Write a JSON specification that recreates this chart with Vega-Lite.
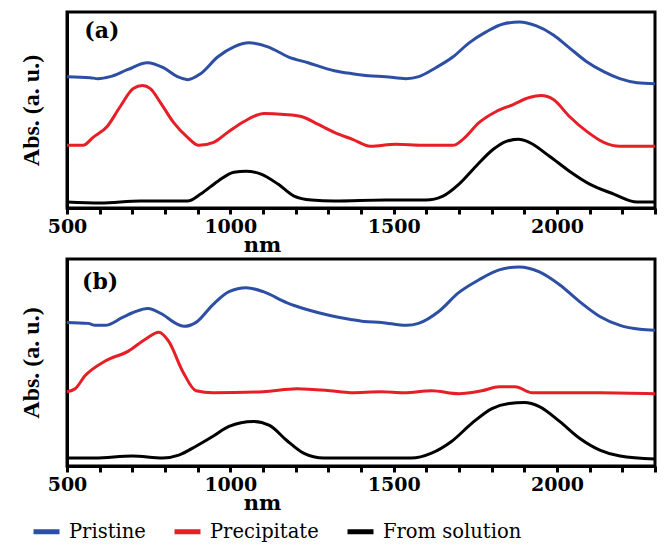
{
  "$schema": "https://vega.github.io/schema/vega-lite/v6.json",
  "padding": {"left": 17, "top": 10, "right": 5, "bottom": 0},
  "background": "white",
  "config": {
    "view": {"stroke": "black", "strokeWidth": 3},
    "font": "DejaVu Serif",
    "axisX": {
      "values": [500, 750, 1000, 1250, 1500, 1750, 2000, 2250],
      "labelExpr": "datum.value % 500 == 0 ? datum.label : ''",
      "format": "d",
      "grid": false,
      "labelFlush": false,
      "labelFont": "DejaVu Serif",
      "labelFontSize": 19,
      "labelFontWeight": "bold",
      "labelColor": "black",
      "labelPadding": 3,
      "tickSize": 6,
      "tickWidth": 3,
      "tickColor": "black",
      "domainColor": "black",
      "domainWidth": 3,
      "titleFont": "DejaVu Serif",
      "titleFontSize": 21,
      "titleFontWeight": "bold",
      "titleColor": "black",
      "titlePadding": -2,
      "titleX": 195,
      "titleAlign": "center"
    },
    "axisY": {
      "labels": false,
      "ticks": false,
      "grid": false,
      "domainColor": "black",
      "domainWidth": 3,
      "titleFont": "Liberation Serif",
      "titleFontSize": 24,
      "titleFontWeight": "bold",
      "titleColor": "black",
      "titlePadding": 24
    },
    "legend": {
      "orient": "none",
      "legendX": -36,
      "legendY": 504,
      "direction": "horizontal",
      "symbolType": "stroke",
      "symbolStrokeWidth": 5,
      "symbolSize": 676,
      "labelFont": "DejaVu Serif",
      "labelFontSize": 19.5,
      "labelColor": "black",
      "labelOffset": 7,
      "columnPadding": 18
    }
  },
  "datasets": {
    "curves": [
      {"panel":"a","series":"Pristine","nm":500,"abs":132},{"panel":"a","series":"Pristine","nm":571,"abs":131},{"panel":"a","series":"Pristine","nm":595,"abs":130},{"panel":"a","series":"Pristine","nm":632,"abs":132},{"panel":"a","series":"Pristine","nm":685,"abs":139},{"panel":"a","series":"Pristine","nm":746,"abs":146},{"panel":"a","series":"Pristine","nm":795,"abs":141},{"panel":"a","series":"Pristine","nm":838,"abs":132},{"panel":"a","series":"Pristine","nm":869,"abs":129},{"panel":"a","series":"Pristine","nm":909,"abs":135},{"panel":"a","series":"Pristine","nm":962,"abs":152},{"panel":"a","series":"Pristine","nm":1011,"abs":162},{"panel":"a","series":"Pristine","nm":1057,"abs":166},{"panel":"a","series":"Pristine","nm":1115,"abs":162},{"panel":"a","series":"Pristine","nm":1177,"abs":152},{"panel":"a","series":"Pristine","nm":1238,"abs":146},{"panel":"a","series":"Pristine","nm":1318,"abs":138},{"panel":"a","series":"Pristine","nm":1374,"abs":135},{"panel":"a","series":"Pristine","nm":1423,"abs":133},{"panel":"a","series":"Pristine","nm":1475,"abs":132},{"panel":"a","series":"Pristine","nm":1537,"abs":130},{"panel":"a","series":"Pristine","nm":1577,"abs":132},{"panel":"a","series":"Pristine","nm":1629,"abs":141},{"panel":"a","series":"Pristine","nm":1682,"abs":152},{"panel":"a","series":"Pristine","nm":1731,"abs":166},{"panel":"a","series":"Pristine","nm":1783,"abs":177},{"panel":"a","series":"Pristine","nm":1835,"abs":185},{"panel":"a","series":"Pristine","nm":1885,"abs":187},{"panel":"a","series":"Pristine","nm":1937,"abs":183},{"panel":"a","series":"Pristine","nm":1989,"abs":174},{"panel":"a","series":"Pristine","nm":2038,"abs":161},{"panel":"a","series":"Pristine","nm":2091,"abs":147},{"panel":"a","series":"Pristine","nm":2143,"abs":137},{"panel":"a","series":"Pristine","nm":2192,"abs":130},{"panel":"a","series":"Pristine","nm":2245,"abs":126},{"panel":"a","series":"Pristine","nm":2300,"abs":125},
      {"panel":"a","series":"Precipitate","nm":500,"abs":63},{"panel":"a","series":"Precipitate","nm":549,"abs":63},{"panel":"a","series":"Precipitate","nm":580,"abs":71},{"panel":"a","series":"Precipitate","nm":623,"abs":82},{"panel":"a","series":"Precipitate","nm":663,"abs":102},{"panel":"a","series":"Precipitate","nm":703,"abs":120},{"panel":"a","series":"Precipitate","nm":731,"abs":123},{"panel":"a","series":"Precipitate","nm":755,"abs":120},{"panel":"a","series":"Precipitate","nm":786,"abs":106},{"panel":"a","series":"Precipitate","nm":826,"abs":86},{"panel":"a","series":"Precipitate","nm":869,"abs":71},{"panel":"a","series":"Precipitate","nm":903,"abs":63},{"panel":"a","series":"Precipitate","nm":949,"abs":66},{"panel":"a","series":"Precipitate","nm":992,"abs":76},{"panel":"a","series":"Precipitate","nm":1042,"abs":87},{"panel":"a","series":"Precipitate","nm":1103,"abs":95},{"panel":"a","series":"Precipitate","nm":1165,"abs":94},{"panel":"a","series":"Precipitate","nm":1217,"abs":92},{"panel":"a","series":"Precipitate","nm":1269,"abs":84},{"panel":"a","series":"Precipitate","nm":1318,"abs":76},{"panel":"a","series":"Precipitate","nm":1374,"abs":69},{"panel":"a","series":"Precipitate","nm":1429,"abs":62},{"panel":"a","series":"Precipitate","nm":1506,"abs":64},{"panel":"a","series":"Precipitate","nm":1589,"abs":63},{"panel":"a","series":"Precipitate","nm":1682,"abs":63},{"panel":"a","series":"Precipitate","nm":1712,"abs":69},{"panel":"a","series":"Precipitate","nm":1762,"abs":86},{"panel":"a","series":"Precipitate","nm":1814,"abs":97},{"panel":"a","series":"Precipitate","nm":1866,"abs":104},{"panel":"a","series":"Precipitate","nm":1915,"abs":111},{"panel":"a","series":"Precipitate","nm":1952,"abs":113},{"panel":"a","series":"Precipitate","nm":1989,"abs":109},{"panel":"a","series":"Precipitate","nm":2038,"abs":92},{"panel":"a","series":"Precipitate","nm":2091,"abs":77},{"panel":"a","series":"Precipitate","nm":2143,"abs":66},{"panel":"a","series":"Precipitate","nm":2192,"abs":62},{"panel":"a","series":"Precipitate","nm":2300,"abs":62},
      {"panel":"a","series":"From solution","nm":500,"abs":6},{"panel":"a","series":"From solution","nm":602,"abs":5},{"panel":"a","series":"From solution","nm":725,"abs":7},{"panel":"a","series":"From solution","nm":869,"abs":7},{"panel":"a","series":"From solution","nm":909,"abs":14},{"panel":"a","series":"From solution","nm":962,"abs":27},{"panel":"a","series":"From solution","nm":1011,"abs":36},{"panel":"a","series":"From solution","nm":1048,"abs":37},{"panel":"a","series":"From solution","nm":1094,"abs":34},{"panel":"a","series":"From solution","nm":1146,"abs":24},{"panel":"a","series":"From solution","nm":1195,"abs":12},{"panel":"a","series":"From solution","nm":1248,"abs":8},{"panel":"a","series":"From solution","nm":1318,"abs":7},{"panel":"a","series":"From solution","nm":1475,"abs":8},{"panel":"a","series":"From solution","nm":1598,"abs":8},{"panel":"a","series":"From solution","nm":1651,"abs":12},{"panel":"a","series":"From solution","nm":1700,"abs":24},{"panel":"a","series":"From solution","nm":1752,"abs":42},{"panel":"a","series":"From solution","nm":1805,"abs":59},{"panel":"a","series":"From solution","nm":1845,"abs":67},{"panel":"a","series":"From solution","nm":1882,"abs":69},{"panel":"a","series":"From solution","nm":1915,"abs":66},{"panel":"a","series":"From solution","nm":1977,"abs":52},{"panel":"a","series":"From solution","nm":2038,"abs":37},{"panel":"a","series":"From solution","nm":2100,"abs":24},{"panel":"a","series":"From solution","nm":2174,"abs":14},{"panel":"a","series":"From solution","nm":2245,"abs":6},{"panel":"a","series":"From solution","nm":2300,"abs":6},
      {"panel":"b","series":"Pristine","nm":500,"abs":145},{"panel":"b","series":"Pristine","nm":565,"abs":144},{"panel":"b","series":"Pristine","nm":586,"abs":142},{"panel":"b","series":"Pristine","nm":617,"abs":142},{"panel":"b","series":"Pristine","nm":670,"abs":150},{"panel":"b","series":"Pristine","nm":710,"abs":156},{"panel":"b","series":"Pristine","nm":747,"abs":159},{"panel":"b","series":"Pristine","nm":793,"abs":153},{"panel":"b","series":"Pristine","nm":833,"abs":144},{"panel":"b","series":"Pristine","nm":858,"abs":141},{"panel":"b","series":"Pristine","nm":895,"abs":145},{"panel":"b","series":"Pristine","nm":947,"abs":163},{"panel":"b","series":"Pristine","nm":996,"abs":176},{"panel":"b","series":"Pristine","nm":1049,"abs":180},{"panel":"b","series":"Pristine","nm":1101,"abs":176},{"panel":"b","series":"Pristine","nm":1172,"abs":165},{"panel":"b","series":"Pristine","nm":1234,"abs":158},{"panel":"b","series":"Pristine","nm":1305,"abs":152},{"panel":"b","series":"Pristine","nm":1369,"abs":148},{"panel":"b","series":"Pristine","nm":1409,"abs":146},{"panel":"b","series":"Pristine","nm":1462,"abs":145},{"panel":"b","series":"Pristine","nm":1539,"abs":142},{"panel":"b","series":"Pristine","nm":1576,"abs":144},{"panel":"b","series":"Pristine","nm":1638,"abs":156},{"panel":"b","series":"Pristine","nm":1699,"abs":175},{"panel":"b","series":"Pristine","nm":1761,"abs":188},{"panel":"b","series":"Pristine","nm":1823,"abs":198},{"panel":"b","series":"Pristine","nm":1884,"abs":201},{"panel":"b","series":"Pristine","nm":1946,"abs":196},{"panel":"b","series":"Pristine","nm":2008,"abs":183},{"panel":"b","series":"Pristine","nm":2069,"abs":166},{"panel":"b","series":"Pristine","nm":2131,"abs":151},{"panel":"b","series":"Pristine","nm":2193,"abs":142},{"panel":"b","series":"Pristine","nm":2254,"abs":138},{"panel":"b","series":"Pristine","nm":2300,"abs":137},
      {"panel":"b","series":"Precipitate","nm":500,"abs":75},{"panel":"b","series":"Precipitate","nm":525,"abs":78},{"panel":"b","series":"Precipitate","nm":555,"abs":91},{"panel":"b","series":"Precipitate","nm":617,"abs":106},{"panel":"b","series":"Precipitate","nm":688,"abs":116},{"panel":"b","series":"Precipitate","nm":740,"abs":128},{"panel":"b","series":"Precipitate","nm":781,"abs":135},{"panel":"b","series":"Precipitate","nm":811,"abs":126},{"panel":"b","series":"Precipitate","nm":855,"abs":95},{"panel":"b","series":"Precipitate","nm":895,"abs":76},{"panel":"b","series":"Precipitate","nm":947,"abs":74},{"panel":"b","series":"Precipitate","nm":1101,"abs":75},{"panel":"b","series":"Precipitate","nm":1203,"abs":78},{"panel":"b","series":"Precipitate","nm":1305,"abs":76},{"panel":"b","series":"Precipitate","nm":1369,"abs":74},{"panel":"b","series":"Precipitate","nm":1462,"abs":75},{"panel":"b","series":"Precipitate","nm":1533,"abs":74},{"panel":"b","series":"Precipitate","nm":1616,"abs":76},{"panel":"b","series":"Precipitate","nm":1699,"abs":73},{"panel":"b","series":"Precipitate","nm":1770,"abs":76},{"panel":"b","series":"Precipitate","nm":1823,"abs":80},{"panel":"b","series":"Precipitate","nm":1872,"abs":80},{"panel":"b","series":"Precipitate","nm":1924,"abs":74},{"panel":"b","series":"Precipitate","nm":2026,"abs":74},{"panel":"b","series":"Precipitate","nm":2131,"abs":74},{"panel":"b","series":"Precipitate","nm":2300,"abs":73},
      {"panel":"b","series":"From solution","nm":500,"abs":8},{"panel":"b","series":"From solution","nm":586,"abs":8},{"panel":"b","series":"From solution","nm":700,"abs":10},{"panel":"b","series":"From solution","nm":793,"abs":8},{"panel":"b","series":"From solution","nm":842,"abs":11},{"panel":"b","series":"From solution","nm":895,"abs":20},{"panel":"b","series":"From solution","nm":947,"abs":30},{"panel":"b","series":"From solution","nm":996,"abs":40},{"panel":"b","series":"From solution","nm":1070,"abs":45},{"panel":"b","series":"From solution","nm":1120,"abs":41},{"panel":"b","series":"From solution","nm":1172,"abs":26},{"panel":"b","series":"From solution","nm":1224,"abs":13},{"panel":"b","series":"From solution","nm":1286,"abs":8},{"panel":"b","series":"From solution","nm":1409,"abs":8},{"panel":"b","series":"From solution","nm":1554,"abs":8},{"panel":"b","series":"From solution","nm":1616,"abs":13},{"panel":"b","series":"From solution","nm":1678,"abs":25},{"panel":"b","series":"From solution","nm":1739,"abs":43},{"panel":"b","series":"From solution","nm":1801,"abs":58},{"panel":"b","series":"From solution","nm":1853,"abs":63},{"panel":"b","series":"From solution","nm":1900,"abs":64},{"panel":"b","series":"From solution","nm":1946,"abs":60},{"panel":"b","series":"From solution","nm":2008,"abs":45},{"panel":"b","series":"From solution","nm":2069,"abs":28},{"panel":"b","series":"From solution","nm":2131,"abs":16},{"panel":"b","series":"From solution","nm":2193,"abs":10},{"panel":"b","series":"From solution","nm":2300,"abs":7}
    ],
    "labels": [
      {"panel":"a","label":"(a)","nm":553,"abs":178},
      {"panel":"b","label":"(b)","nm":546,"abs":186}
    ]
  },
  "spacing": 0,
  "resolve": {"scale": {"color": "shared"}},
  "vconcat": [
    {
      "width": 588,
      "height": 196,
      "layer": [
        {
          "data": {"name": "curves"},
          "transform": [{"filter": "datum.panel == 'a'"}],
          "mark": {"type": "line", "interpolate": "monotone", "strokeWidth": 3},
          "encoding": {
            "x": {"field": "nm", "type": "quantitative", "scale": {"domain": [500, 2300], "nice": false, "zero": false}, "title": "nm"},
            "y": {"field": "abs", "type": "quantitative", "scale": {"domain": [0, 197], "nice": false}, "title": "Abs. (a. u.)"},
            "color": {"field": "series", "type": "nominal", "scale": {"domain": ["Pristine", "Precipitate", "From solution"], "range": ["#2d4fa3", "#e61e25", "#000000"]}, "legend": {"title": null}}
          }
        },
        {
          "data": {"name": "labels"},
          "transform": [{"filter": "datum.panel == 'a'"}],
          "mark": {"type": "text", "align": "left", "baseline": "middle", "font": "DejaVu Serif", "fontWeight": "bold", "fontSize": 22, "color": "black"},
          "encoding": {
            "x": {"field": "nm", "type": "quantitative", "title": "nm"},
            "y": {"field": "abs", "type": "quantitative", "title": "Abs. (a. u.)"},
            "text": {"field": "label"}
          }
        }
      ]
    },
    {
      "width": 588,
      "height": 207,
      "layer": [
        {
          "data": {"name": "curves"},
          "transform": [{"filter": "datum.panel == 'b'"}],
          "mark": {"type": "line", "interpolate": "monotone", "strokeWidth": 3},
          "encoding": {
            "x": {"field": "nm", "type": "quantitative", "scale": {"domain": [500, 2300], "nice": false, "zero": false}, "title": "nm"},
            "y": {"field": "abs", "type": "quantitative", "scale": {"domain": [0, 209], "nice": false}, "title": "Abs. (a. u.)"},
            "color": {"field": "series", "type": "nominal", "scale": {"domain": ["Pristine", "Precipitate", "From solution"], "range": ["#2d4fa3", "#e61e25", "#000000"]}, "legend": {"title": null}}
          }
        },
        {
          "data": {"name": "labels"},
          "transform": [{"filter": "datum.panel == 'b'"}],
          "mark": {"type": "text", "align": "left", "baseline": "middle", "font": "DejaVu Serif", "fontWeight": "bold", "fontSize": 22, "color": "black"},
          "encoding": {
            "x": {"field": "nm", "type": "quantitative", "title": "nm"},
            "y": {"field": "abs", "type": "quantitative", "title": "Abs. (a. u.)"},
            "text": {"field": "label"}
          }
        }
      ]
    }
  ]
}
